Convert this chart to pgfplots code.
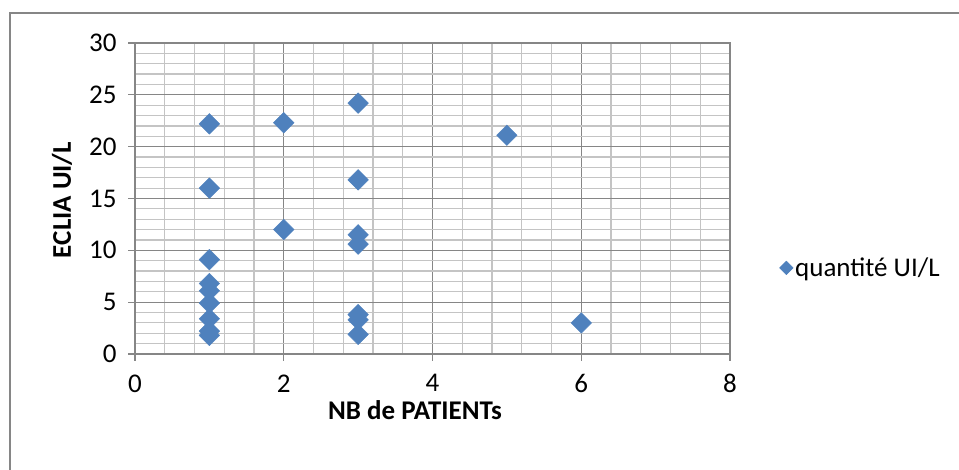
\documentclass[border=0pt]{standalone}
\usepackage{fontspec}
\setmainfont{Carlito}
\usepackage{pgfplots}
\pgfplotsset{compat=1.18}
\definecolor{serieblue}{HTML}{4F81BD}
\definecolor{majgrid}{HTML}{868686}
\definecolor{mingrid}{HTML}{C4C4C4}

\begin{document}
\begin{tikzpicture}[x=1bp,y=1bp]
\useasboundingbox (0,0) rectangle (959,470);
% chart area frame
\begin{scope}
\clip (0,0) rectangle (959,470);
\draw[color=majgrid, line width=1.6bp] (10,-20) -- (10,457) -- (990,457);
\end{scope}
\begin{axis}[
  at={(135bp,116bp)}, anchor=south west,
  scale only axis, width=595bp, height=311bp,
  xmin=0, xmax=8, ymin=0, ymax=30,
  xtick={0,2,...,8}, ytick={0,5,...,30},
  minor x tick num=4, minor y tick num=4,
  grid=both,
  major grid style={majgrid, line width=1.2bp},
  minor grid style={mingrid, line width=1.2bp},
  axis line style={majgrid, line width=1.2bp},
  tick pos=left, tick align=outside,
  major tick length=7bp, minor tick length=0pt,
  tick style={majgrid, line width=1.2bp},
  /pgf/number format/assume math mode=true,
  ticklabel style={font=\fontsize{27bp}{32bp}\selectfont, text=black},
  yticklabel shift=8bp,
  xticklabel shift=10bp,
  xlabel={\textbf{NB de PATIENTs}},
  ylabel={\textbf{ECLIA UI/L}},
  label style={font=\fontsize{27bp}{32bp}\selectfont},
  xlabel style={at={(axis description cs:0.4706,-0.18)}, anchor=center},
  ylabel style={at={(axis description cs:-0.1227,0.495)}, anchor=center},
  legend style={at={(axis description cs:1.083,0.277)}, anchor=west,
    draw=none, fill=none, font=\fontsize{27bp}{32bp}\selectfont,
    inner sep=0pt},
  legend image code/.code={\draw[mark=square*, mark size=4.8bp,
    mark options={rotate=45, fill=serieblue, draw=serieblue}]
    plot coordinates {(0.2cm,0cm)};},
]
\addplot[only marks, mark=square*, mark size=7.3bp,
  mark options={rotate=45, fill=serieblue, draw=serieblue}]
  coordinates {
  (1,22.2) (1,16.0) (1,9.1) (1,6.8) (1,6.1) (1,4.9) (1,3.4) (1,2.2) (1,1.8)
  (2,22.3) (2,12.0)
  (3,24.2) (3,16.8) (3,11.5) (3,10.6) (3,3.8) (3,3.3) (3,1.9)
  (5,21.1)
  (6,3.0)
};
\addlegendentry{quantité UI/L}
\end{axis}
\end{tikzpicture}
\end{document}
